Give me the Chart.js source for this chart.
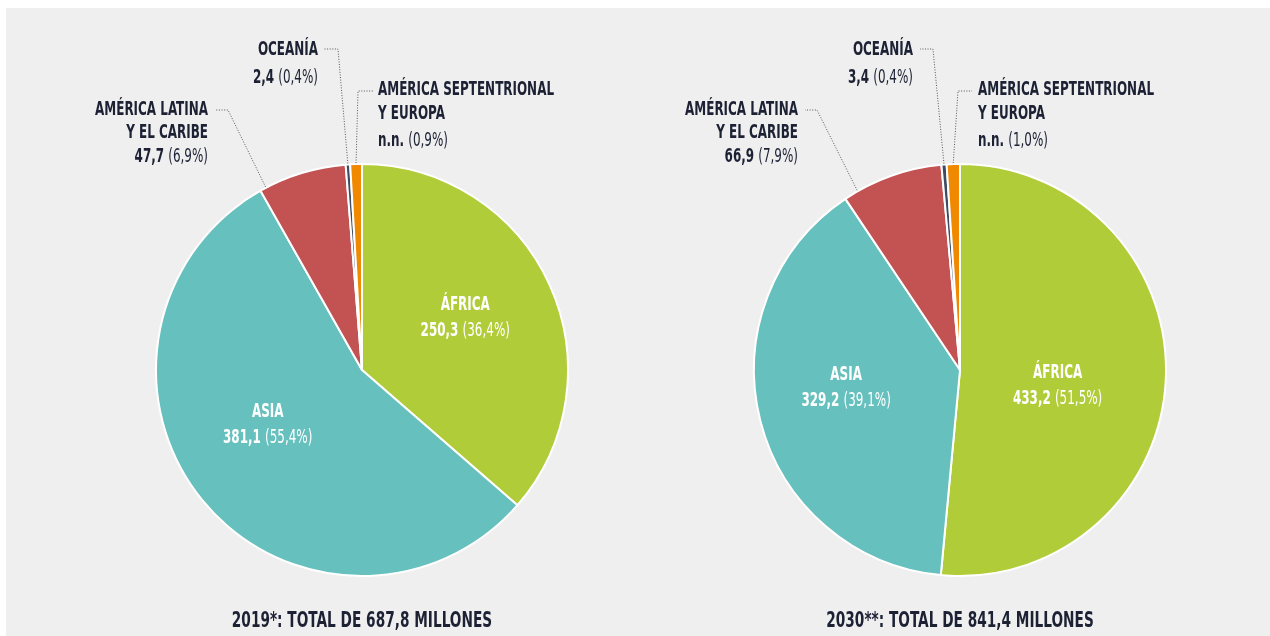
<!DOCTYPE html>
<html>
<head>
<meta charset="utf-8">
<script src="https://cdn.jsdelivr.net/npm/chart.js@4.4.0/dist/chart.umd.min.js"></script>
<style>
  html, body { margin: 0; padding: 0; background: #ffffff; }
  #bg { position: absolute; left: 6px; top: 8px; width: 1264px; height: 628px; background: #efefef; }
  canvas { position: absolute; top: 0; }
</style>
</head>
<body>
<div id="bg"></div>
<canvas id="chart2019" width="635" height="636" style="left:0px"></canvas>
<canvas id="chart2030" width="635" height="636" style="left:635px"></canvas>
<script>
// regions, clockwise from 12 o'clock
const regions = ["ÁFRICA", "ASIA", "AMÉRICA LATINA Y EL CARIBE", "OCEANÍA", "AMÉRICA SEPTENTRIONAL Y EUROPA"];
const regionLines = [["ÁFRICA"], ["ASIA"], ["AMÉRICA LATINA", "Y EL CARIBE"], ["OCEANÍA"], ["AMÉRICA SEPTENTRIONAL", "Y EUROPA"]];
const colors = ["#b1cc39", "#66c0bd", "#c35252", "#3f4b62", "#f08800"];

// millones de personas
const values2019 = [250.3, 381.1, 47.7, 2.4, 6.3];
const values2030 = [433.2, 329.2, 66.9, 3.4, 8.7];
const valueText2019 = ["250,3", "381,1", "47,7", "2,4", "n.n."];
const valueText2030 = ["433,2", "329,2", "66,9", "3,4", "n.n."];
const shareText2019 = ["(36,4%)", "(55,4%)", "(6,9%)", "(0,4%)", "(0,9%)"];
const shareText2030 = ["(51,5%)", "(39,1%)", "(7,9%)", "(0,4%)", "(1,0%)"];
const titles = ["2019*: TOTAL DE 687,8 MILLONES", "2030**: TOTAL DE 841,4 MILLONES"];

const FONT = '"Liberation Sans Narrow", "DejaVu Sans Condensed", "Roboto", sans-serif';
const DARK = "#1c2134";

// sx squeezes the text horizontally, the original uses a condensed face
function drawRuns(ctx, runs, x, y, align, color, size, sx) {
  let widths = runs.map((r) => {
    ctx.font = (r.bold ? "bold " : "") + size + "px " + FONT;
    return ctx.measureText(r.text).width * sx;
  });
  let total = widths.reduce((a, b) => a + b, 0);
  let cur = align === "right" ? x - total : align === "center" ? x - total / 2 : x;
  ctx.fillStyle = color;
  ctx.textBaseline = "middle";
  ctx.textAlign = "left";
  runs.forEach((r, i) => {
    ctx.font = (r.bold ? "bold " : "") + size + "px " + FONT;
    ctx.save();
    ctx.translate(cur, y);
    ctx.scale(sx, 1);
    ctx.fillText(r.text, 0, 0);
    ctx.restore();
    cur += widths[i];
  });
}

const sliceLabels = {
  id: "sliceLabels",
  afterDatasetsDraw(chart, args, opts) {
    const ctx = chart.ctx;
    const arcs = chart.getDatasetMeta(0).data;
    const cx = arcs[0].x, cy = arcs[0].y, R = arcs[0].outerRadius;
    ctx.save();

    // labels inside the two big slices
    opts.inner.forEach((lab) => {
      const a = arcs[lab.index];
      const mid = (a.startAngle + a.endAngle) / 2 + lab.dAngle * Math.PI / 180;
      const x = cx + Math.cos(mid) * R * lab.r;
      const y = cy + Math.sin(mid) * R * lab.r;
      drawRuns(ctx, [{ text: regionLines[lab.index][0], bold: true }], x, y - 13, "center", "#ffffff", 19, 0.7);
      drawRuns(ctx, [{ text: opts.values[lab.index] + " ", bold: true }, { text: opts.shares[lab.index], bold: false }],
        x, y + 13, "center", "#ffffff", 19, 0.7);
    });

    // small slices with dotted leaders
    opts.outer.forEach((lab) => {
      const a = arcs[lab.index];
      const ang = a.startAngle + (a.endAngle - a.startAngle) * lab.frac;
      const ax = cx + Math.cos(ang) * (R + 1);
      const ay = cy + Math.sin(ang) * (R + 1);
      ctx.save();
      ctx.strokeStyle = "#555555";
      ctx.lineWidth = 1;
      ctx.setLineDash([1, 1.6]);
      ctx.beginPath();
      ctx.moveTo(ax, ay);
      ctx.lineTo(cx + lab.elbow[0], cy + lab.elbow[1]);
      ctx.lineTo(cx + lab.dashTo, cy + lab.elbow[1]);
      ctx.stroke();
      ctx.restore();
      const lines = regionLines[lab.index];
      lines.forEach((t, i) => {
        drawRuns(ctx, [{ text: t, bold: true }], cx + lab.x, cy + lab.ys[i], lab.align, DARK, 19, 0.7);
      });
      drawRuns(ctx, [{ text: opts.values[lab.index] + " ", bold: true }, { text: opts.shares[lab.index], bold: false }],
        cx + lab.x, cy + lab.ys[lines.length], lab.align, DARK, 19, 0.7);
    });

    drawRuns(ctx, [{ text: opts.title, bold: true }], cx, cy + 252, "center", DARK, 21, 0.725);
    ctx.restore();
  }
};

function makePie(id, values, valueText, shareText, title, padding, outer, inner) {
  return new Chart(document.getElementById(id), {
    type: "pie",
    data: {
      labels: regions,
      datasets: [{
        data: values,
        backgroundColor: colors,
        borderColor: "#ffffff",
        borderWidth: 2
      }]
    },
    options: {
      responsive: false,
      animation: false,
      layout: { padding: padding },
      plugins: {
        legend: { display: false },
        tooltip: { enabled: false },
        sliceLabels: { values: valueText, shares: shareText, title: title, outer: outer, inner: inner }
      }
    },
    plugins: [sliceLabels]
  });
}

makePie("chart2019", values2019, valueText2019, shareText2019, titles[0],
  { left: 155, right: 66, top: 163, bottom: 59 },
  [
    { index: 2, frac: 0.07, align: "right", x: -154, ys: [-260, -237, -213], elbow: [-134, -260], dashTo: -146 },
    { index: 3, frac: 0.5, align: "right", x: -44, ys: [-320, -292], elbow: [-24, -321], dashTo: -39 },
    { index: 4, frac: 0.5, align: "left", x: 16, ys: [-280, -256, -229], elbow: [-4, -279], dashTo: 11 }
  ],
  [
    { index: 0, r: 0.56, dAngle: -2 },
    { index: 1, r: 0.53, dAngle: 9 }
  ]);

makePie("chart2030", values2030, valueText2030, shareText2030, titles[1],
  { left: 118, right: 103, top: 163, bottom: 59 },
  [
    { index: 2, frac: 0.14, align: "right", x: -162, ys: [-260, -237, -213], elbow: [-143, -260], dashTo: -155 },
    { index: 3, frac: 0.5, align: "right", x: -47, ys: [-320, -292], elbow: [-27, -321], dashTo: -40 },
    { index: 4, frac: 0.5, align: "left", x: 18, ys: [-280, -256, -229], elbow: [-2, -279], dashTo: 12 }
  ],
  [
    { index: 0, r: 0.48, dAngle: 6.5 },
    { index: 1, r: 0.56, dAngle: 5 }
  ]);
</script>
</body>
</html>
